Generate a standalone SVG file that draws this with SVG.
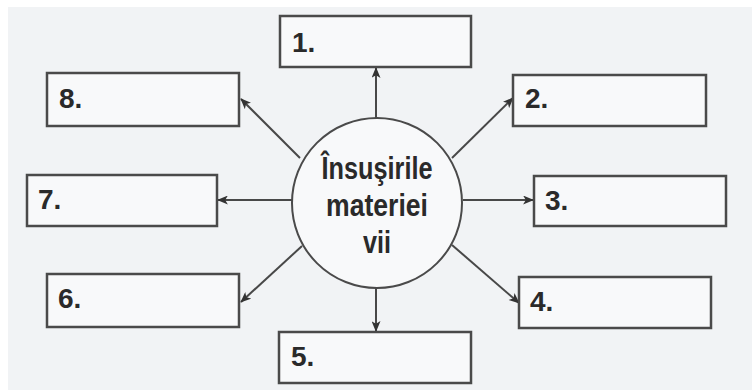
<svg xmlns="http://www.w3.org/2000/svg" width="752" height="390" viewBox="0 0 752 390">
<style>
.box{fill:#f8f9fa;stroke:#4a4a4a;stroke-width:2.5}
.lbl{font-family:"Liberation Sans",Arial,sans-serif;font-weight:bold;font-size:28px;fill:#2a2a2a}
.ctr{font-family:"Liberation Sans",Arial,sans-serif;font-weight:bold;font-size:32px;fill:#2a2a2a;text-anchor:middle}
.con{stroke:#484848;stroke-width:2;fill:none;marker-end:url(#ah)}
</style>
<defs>
<marker id="ah" viewBox="0 0 12 10" refX="11" refY="5" markerWidth="12" markerHeight="9" markerUnits="userSpaceOnUse" orient="auto">
<path d="M0,0 L12,5 L0,10 L3,5 z" fill="#333"/>
</marker>
</defs>
<rect x="0" y="0" width="752" height="390" fill="#ffffff"/>
<rect x="8" y="7" width="744" height="383" fill="#f1f3f5"/>
<g id="connectors">
<line class="con" x1="376" y1="118" x2="376" y2="68"/>
<line class="con" x1="452" y1="158" x2="513" y2="98"/>
<line class="con" x1="463" y1="200" x2="533" y2="200"/>
<line class="con" x1="452" y1="245" x2="519" y2="303"/>
<line class="con" x1="376" y1="288" x2="376" y2="331"/>
<line class="con" x1="302" y1="246" x2="241" y2="302"/>
<line class="con" x1="292" y1="200" x2="218" y2="200"/>
<line class="con" x1="300" y1="158" x2="241" y2="99"/>
</g>
<g id="center">
<circle cx="377" cy="203" r="85" fill="#f8f9fa" stroke="#4a4a4a" stroke-width="2"/>
<text class="ctr" x="377" y="179" textLength="111" lengthAdjust="spacingAndGlyphs">Însuşirile</text>
<text class="ctr" x="377" y="216" textLength="102" lengthAdjust="spacingAndGlyphs">materiei</text>
<text class="ctr" x="377" y="253" textLength="28" lengthAdjust="spacingAndGlyphs">vii</text>
</g>
<g id="n1"><rect class="box" x="280" y="16" width="191" height="51"/><text class="lbl" x="292" y="52">1.</text></g>
<g id="n2"><rect class="box" x="513" y="75" width="193" height="51"/><text class="lbl" x="525" y="108">2.</text></g>
<g id="n3"><rect class="box" x="534" y="176" width="192" height="50"/><text class="lbl" x="545" y="210">3.</text></g>
<g id="n4"><rect class="box" x="519" y="277" width="192" height="51"/><text class="lbl" x="530" y="311">4.</text></g>
<g id="n5"><rect class="box" x="279" y="332" width="192" height="51"/><text class="lbl" x="291" y="366">5.</text></g>
<g id="n6"><rect class="box" x="47" y="274" width="192" height="53"/><text class="lbl" x="58" y="308">6.</text></g>
<g id="n7"><rect class="box" x="27" y="175" width="190" height="51"/><text class="lbl" x="38" y="209">7.</text></g>
<g id="n8"><rect class="box" x="47" y="73" width="192" height="53"/><text class="lbl" x="59" y="108">8.</text></g>
</svg>
